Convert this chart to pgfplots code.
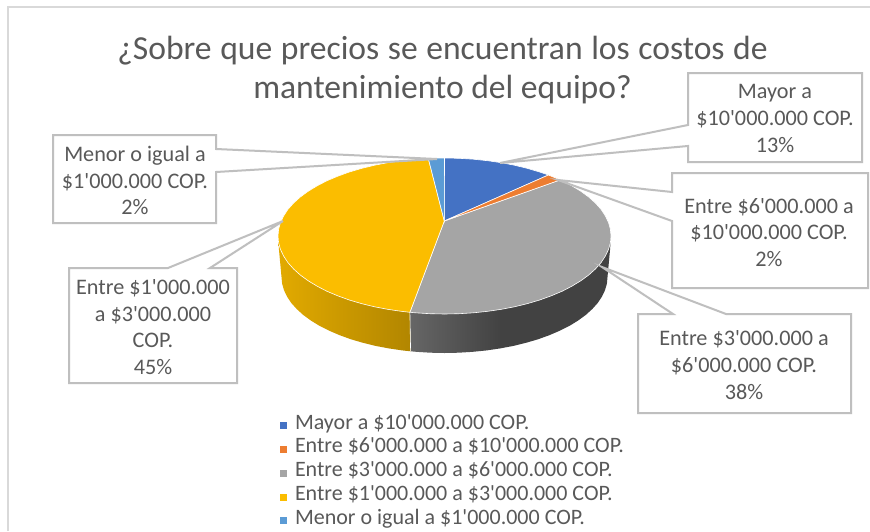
\documentclass[border=0pt]{standalone}
\usepackage{pgfplots}
\pgfplotsset{compat=1.18}
\usepackage{fontspec}
\newfontfamily\cf{Carlito}
\definecolor{txt}{HTML}{595959}
\definecolor{brd}{HTML}{BFBFBF}
\definecolor{frm}{HTML}{D9D9D9}
\definecolor{cblue}{HTML}{4472C4}
\definecolor{corange}{HTML}{ED7D31}
\definecolor{cgray}{HTML}{A5A5A5}
\definecolor{cyellow}{HTML}{FBBD00}
\definecolor{clight}{HTML}{5B9BD5}
\newcommand{\lab}{\cf\fontsize{22.2bp}{26.8bp}\selectfont\color{txt}}
\begin{document}
\begin{tikzpicture}
\begin{axis}[
  scale only axis,width=870bp,height=531bp,
  xmin=0,xmax=870,ymin=0,ymax=531,y dir=reverse,
  hide axis,clip=true,
  legend style={draw=none,fill=none,at={(axis cs:280,418)},anchor=north west,
    inner sep=0pt,outer sep=0pt,row sep=9.9bp,
    nodes={inner sep=0pt,text height=11bp,text depth=3bp},
    font=\cf\fontsize{22bp}{24bp}\selectfont\color{txt},
    /tikz/every odd column/.style={column sep=9bp}},
  legend cell align=left,
  slice/.style={fill=#1,draw=white,line width=0.6bp,forget plot},
  box/.style={draw=brd,line width=2bp,fill=none,forget plot},
]
% background and frame
\addplot[fill=white,draw=none,forget plot] coordinates {(0,0) (870,0) (870,531) (0,531)} -- cycle;
\addplot[draw=frm,line width=2bp,forget plot] coordinates {(8,531) (8,7) (870,7)};

% side wall, grey
\addplot[draw=none,fill=black!74,forget plot] coordinates {
(611,236) (610,250) (607.5,277) (606.9,283.6) (605,290.2) (601.9,296.7) (597.7,303) (592.2,309.1)
(585.7,315) (578,320.6) (569.4,325.9) (559.8,330.7) (549.3,335.2) (538,339.3) (526,342.8)
(513.4,345.9) (500.2,348.4) (500,260)} -- cycle;
\addplot[left color=black!60,right color=black!74,draw=none,forget plot] coordinates {
(500.2,348.4) (486.7,350.4) (472.8,351.8) (458.7,352.7) (444.5,353) (430.3,352.7) (416.2,351.8)
(410.6,351.3) (409.9,312) (444,260) (500.2,260)} -- cycle;
% side wall, yellow
\addplot[left color=cyellow!90!black,right color=cyellow!66!black,draw=none,forget plot] coordinates {
(409.9,312) (410.6,351.3) (402.3,350.4) (388.8,348.4) (375.6,345.9) (363,342.8) (351,339.3) (339.7,335.2)
(329.2,330.7) (319.6,325.9) (311,320.6) (303.3,315) (296.8,309.1) (291.3,303) (287.1,296.7) (284,290.2)
(282.1,283.6) (281.5,277) (279,250) (278,236) (444,260)} -- cycle;
\addplot[draw=white,line width=0.6bp,forget plot] coordinates {(409.9,312.3) (410.6,351.3)};

% top face
\addplot[slice=cgray] coordinates {(444.3,221)
(560.2,179.9) (562.2,180.8) (572,185.9) (580.9,191.3) (588.7,197) (595.4,203) (601,209.3) (605.3,215.8)
(608.5,222.5) (610.4,229.2) (611,236) (610.4,242.8) (608.5,249.5) (605.3,256.2) (601,262.7) (595.4,269)
(588.7,275) (580.9,280.7) (572,286.1) (562.2,291.2) (551.5,295.7) (540,299.9) (527.8,303.5) (514.9,306.7)
(501.4,309.3) (487.6,311.3) (473.4,312.8) (459,313.7) (444.5,314) (430,313.7) (415.6,312.8) (409.9,312.3)} -- cycle;
\addplot[slice=cyellow] coordinates {(444.3,221)
(409.9,312.3) (401.4,311.3) (387.6,309.3) (374.1,306.7) (361.2,303.5) (349,299.9) (337.5,295.7) (326.8,291.2)
(317,286.1) (308.1,280.7) (300.3,275) (293.6,269) (288,262.7) (283.7,256.2) (280.5,249.5) (278.6,242.8)
(278,236) (278.6,229.2) (280.5,222.5) (283.7,215.8) (288,209.3) (293.6,203) (300.3,197) (308.1,191.3)
(317,185.9) (326.8,180.8) (337.5,176.3) (349,172.1) (361.2,168.5) (374.1,165.3) (387.6,162.7) (401.4,160.7)
(415.6,159.2) (428.3,158.4)} -- cycle;
\addplot[slice=cblue] coordinates {(444.3,221)
(444.5,158) (459,158.3) (473.4,159.2) (487.6,160.7) (501.4,162.7) (514.9,165.3) (527.8,168.5) (540,172.1) (548.4,175)} -- cycle;
\addplot[slice=corange] coordinates {(444.3,221)
(548.4,175) (551.5,176.3) (560.2,179.9)} -- cycle;
\addplot[slice=clight] coordinates {(444.3,221)
(428.3,158.4) (430,158.3) (444.5,158)} -- cycle;

% callouts
\addplot[box] coordinates {(688,73) (862,73) (862,162) (688,162) (688,146) (500,163) (688,125)} -- cycle;
\addplot[box] coordinates {(672,173) (868,173) (868,288) (672,288) (672,221) (558,180) (672,192)} -- cycle;
\addplot[box] coordinates {(638,314) (673,314) (602,267) (726,314) (851,314) (851,413) (638,413)} -- cycle;
\addplot[box] coordinates {(69,268) (168,268) (283,221) (210,268) (237,268) (237,383) (69,383)} -- cycle;
\addplot[box] coordinates {(53,135) (216,135) (216,149) (437,159) (216,172) (216,223) (53,223)} -- cycle;

% legend
\addlegendimage{only marks,mark=square*,mark size=3bp,color=cblue}
\addlegendentry{Mayor a \$10'000.000 COP.}
\addlegendimage{only marks,mark=square*,mark size=3bp,color=corange}
\addlegendentry{Entre \$6'000.000 a \$10'000.000 COP.}
\addlegendimage{only marks,mark=square*,mark size=3bp,color=cgray}
\addlegendentry{Entre \$3'000.000 a \$6'000.000 COP.}
\addlegendimage{only marks,mark=square*,mark size=3bp,color=cyellow}
\addlegendentry{Entre \$1'000.000 a \$3'000.000 COP.}
\addlegendimage{only marks,mark=square*,mark size=3bp,color=clight}
\addlegendentry{Menor o igual a \$1'000.000 COP.}

% texts
\node[align=center,inner sep=0pt,font=\cf\fontsize{33.6bp}{39bp}\selectfont\color{txt}] at (axis cs:442.5,70.5)
  {¿Sobre\hspace{1bp} que\hspace{1bp} precios\hspace{1bp} se\hspace{1bp} encuentran\hspace{1bp} los\hspace{1bp} costos\hspace{1bp} de\\mantenimiento del equipo?};
\node[align=center,inner sep=0pt,font=\lab] at (axis cs:775,118.5) {Mayor a\\\$10'000.000 COP.\\13\%};
\node[align=center,inner sep=0pt,font=\lab] at (axis cs:769,232.5) {Entre \$6'000.000 a\\\$10'000.000 COP.\\2\%};
\node[align=center,inner sep=0pt,font=\lab] at (axis cs:744,365) {Entre \$3'000.000 a\\\$6'000.000 COP.\\38\%};
\node[align=center,inner sep=0pt,font=\lab] at (axis cs:153,327) {Entre \$1'000.000\\a \$3'000.000\\COP.\\45\%};
\node[align=center,inner sep=0pt,font=\lab] at (axis cs:135,180.5) {Menor o igual a\\\$1'000.000 COP.\\2\%};
\end{axis}
\end{tikzpicture}
\end{document}
